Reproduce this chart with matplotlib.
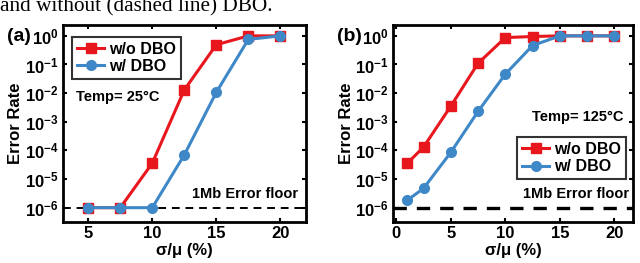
import matplotlib.pyplot as plt
import numpy as np

# panel (a): Temp = 25 C
x_a = [5, 7.5, 10, 12.5, 15, 17.5, 20]
wo_dbo_a = [1e-6, 1e-6, 3.6e-5, 1.3e-2, 0.49, 1.0, 1.0]
w_dbo_a = [1e-6, 1e-6, 1e-6, 7e-5, 1.07e-2, 0.75, 1.0]

# panel (b): Temp = 125 C
x_b = [1, 2.5, 5, 7.5, 10, 12.5, 15, 17.5, 20]
wo_dbo_b = [3.5e-5, 1.3e-4, 3.5e-3, 0.11, 0.87, 0.95, 1.0, 1.0, 1.0]
w_dbo_b = [1.8e-6, 4.7e-6, 8.5e-5, 2.3e-3, 0.046, 0.46, 1.0, 1.0, 1.0]

error_floor = 1e-6
yticks = [1e-6, 1e-5, 1e-4, 1e-3, 1e-2, 1e-1, 1e0]

RED = '#E8161D'
BLUE = '#3F88C8'
FONT = 'Liberation Sans'

plt.rcParams['font.family'] = FONT
plt.rcParams['font.weight'] = 'bold'
plt.rcParams['mathtext.fontset'] = 'custom'
plt.rcParams['mathtext.rm'] = 'Liberation Sans:bold'
plt.rcParams['mathtext.default'] = 'rm'


def draw_panel(ax, x, wo, w, xlim, xticks, floor_lw):
    ax.plot(x, wo, '-s', color=RED, lw=2.2, ms=7, label='w/o DBO')
    ax.plot(x, w, '-o', color=BLUE, lw=2.2, ms=7, label='w/ DBO')
    ax.axhline(error_floor, color='black', ls=(0, (4, 3)), lw=floor_lw, zorder=0)
    ax.set_yscale('log')
    ax.set_ylim(10 ** -6.5, 10 ** 0.38)
    ax.set_xlim(*xlim)
    ax.set_xticks(xticks)
    ax.set_yticks(yticks)
    ax.set_yticklabels([r'$10^{%d}$' % int(np.log10(v)) for v in yticks])
    ax.minorticks_off()
    ax.tick_params(direction='in', top=True, right=True, width=1.5, length=3,
                   labelsize=12, pad=3)
    for s in ax.spines.values():
        s.set_linewidth(2)
    ax.set_xlabel('σ/μ (%)', fontsize=12, fontweight='bold', labelpad=1)
    ax.set_ylabel('Error Rate', fontsize=12, fontweight='bold', labelpad=1)


def add_legend(ax, loc, anchor):
    leg = ax.legend(loc=loc, bbox_to_anchor=anchor, fontsize=11.5,
                    frameon=True, fancybox=False, edgecolor='black',
                    handlelength=1.7, borderpad=0.3, labelspacing=0.15,
                    handletextpad=0.3, borderaxespad=0.0)
    leg.get_frame().set_linewidth(1.5)


fig = plt.figure(figsize=(6.4, 2.63), dpi=100)

fig.text(0.0, 0.955, 'and without (dashed line) DBO.', family='Liberation Serif',
         fontweight='normal', fontsize=15.3, va='baseline', ha='left')

ax1 = fig.add_axes([0.098, 0.156, 0.380, 0.749])
draw_panel(ax1, x_a, wo_dbo_a, w_dbo_a, (3, 22), [5, 10, 15, 20], 1.4)
add_legend(ax1, 'upper left', (0.04, 0.94))
ax1.text(0.055, 0.635, 'Temp= 25°C', transform=ax1.transAxes, fontsize=10.5,
         fontweight='bold', va='center', ha='left')
ax1.text(0.97, 0.14, '1Mb Error floor', transform=ax1.transAxes, fontsize=10.5,
         fontweight='bold', va='center', ha='right')
fig.text(0.011, 0.862, '(a)', fontsize=14, fontweight='bold', va='center')

ax2 = fig.add_axes([0.614, 0.156, 0.375, 0.749])
draw_panel(ax2, x_b, wo_dbo_b, w_dbo_b, (-0.3, 21.7), [0, 5, 10, 15, 20], 2.4)
add_legend(ax2, 'upper right', (0.97, 0.43))
ax2.text(0.96, 0.535, 'Temp= 125°C', transform=ax2.transAxes, fontsize=10.5,
         fontweight='bold', va='center', ha='right')
ax2.text(0.985, 0.14, '1Mb Error floor', transform=ax2.transAxes, fontsize=10.5,
         fontweight='bold', va='center', ha='right')
fig.text(0.527, 0.862, '(b)', fontsize=14, fontweight='bold', va='center')

fig.savefig('out.png', dpi=100)
